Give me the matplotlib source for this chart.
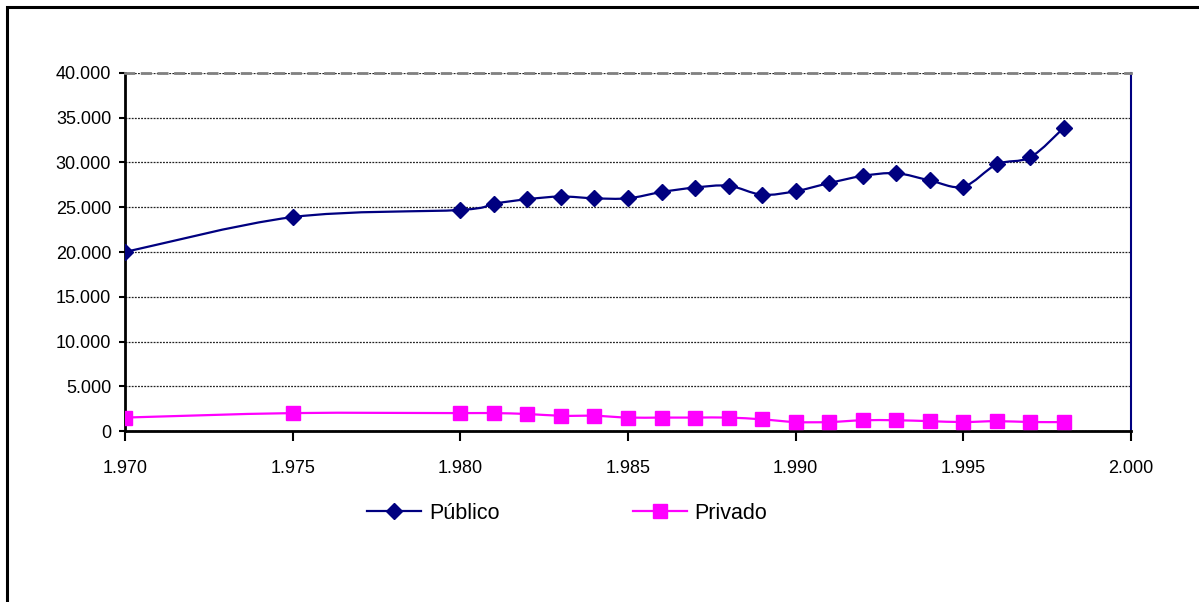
import numpy as np
import matplotlib
matplotlib.use("Agg")
import matplotlib.pyplot as plt
from matplotlib.path import Path
from matplotlib.patches import PathPatch, Rectangle
from matplotlib.lines import Line2D
from matplotlib.ticker import FuncFormatter, MultipleLocator

plt.rcParams['font.family'] = ['Liberation Sans Narrow', 'Liberation Sans', 'DejaVu Sans']

# series: years with a marker, and the two sectors
anos = [1970, 1975, 1980, 1981, 1982, 1983, 1984, 1985, 1986, 1987, 1988,
        1989, 1990, 1991, 1992, 1993, 1994, 1995, 1996, 1997, 1998]
publico = [20000, 23900, 24700, 25400, 25900, 26200, 26000, 26000, 26700, 27200, 27400,
           26400, 26800, 27700, 28500, 28800, 28000, 27300, 29800, 30600, 33900]
privado = [1500, 2000, 2000, 2000, 1900, 1700, 1700, 1500, 1500, 1500, 1500,
           1300, 1000, 1000, 1200, 1200, 1100, 1000, 1100, 1000, 1000]

series = [("Público", publico, "#000080", "D", 8.5),
          ("Privado", privado, "#FF00FF", "s", 9.5)]


def curva_suave(x, y):
    # bezier por tramos (catmull-rom) como la linea suavizada de excel
    p = np.column_stack([x, y]).astype(float)
    verts = [p[0]]
    codes = [Path.MOVETO]
    for i in range(len(p) - 1):
        p0 = p[i - 1] if i > 0 else p[i]
        p3 = p[i + 2] if i + 2 < len(p) else p[i + 1]
        c1 = p[i] + (p[i + 1] - p0) / 6
        c2 = p[i + 1] - (p3 - p[i]) / 6
        verts += [c1, c2, p[i + 1]]
        codes += [Path.CURVE4] * 3
    return Path(verts, codes)


def miles(v, pos):
    return f"{int(round(v)):,}".replace(",", ".")


fig = plt.figure(figsize=(11.99, 6.02), dpi=100)
ax = fig.add_axes([0.10425, 0.28405, 0.83906, 0.59469])

handles = []
for nombre, vals, color, mk, ms in series:
    ax.add_patch(PathPatch(curva_suave(anos, vals), facecolor="none",
                           edgecolor=color, lw=1.6, zorder=3))
    ax.plot(anos, vals, linestyle="none", marker=mk, ms=ms, color=color,
            markeredgecolor=color, zorder=4)
    handles.append(Line2D([], [], color=color, lw=1.6, marker=mk, ms=ms,
                          markeredgecolor=color, label=nombre))

ax.set_xlim(1970, 2000)
ax.set_ylim(0, 40000)
ax.xaxis.set_major_locator(MultipleLocator(5))
ax.yaxis.set_major_locator(MultipleLocator(5000))
ax.xaxis.set_major_formatter(FuncFormatter(miles))
ax.yaxis.set_major_formatter(FuncFormatter(miles))

ax.grid(axis="y", color="#222222", linestyle=(0, (1.5, 1)), lw=0.9)
ax.set_axisbelow(True)

ax.spines["left"].set_color("black")
ax.spines["left"].set_linewidth(2)
ax.spines["bottom"].set_color("black")
ax.spines["bottom"].set_linewidth(2)
ax.spines["top"].set_color("#808080")
ax.spines["top"].set_linestyle((0, (3, 3)))
ax.spines["top"].set_linewidth(2)
ax.spines["right"].set_color("#000080")
ax.spines["right"].set_linewidth(1.5)

ax.tick_params(axis="x", direction="out", length=7, width=1.5, pad=14,
               labelsize=13, color="black")
ax.tick_params(axis="y", direction="out", length=4, width=1.5, pad=6,
               labelsize=13, color="black")

fig.legend(handles=handles, loc="center", bbox_to_anchor=(0.473, 0.147),
           ncol=2, frameon=False, fontsize=15.5, handlelength=2.5,
           handletextpad=0.35, columnspacing=6.2)

# marco exterior del grafico
fig.patches.append(Rectangle((7 / 1199, -0.2), 1.3, 1.2 - 7 / 602,
                             transform=fig.transFigure, fill=False,
                             edgecolor="black", lw=2.2))

fig.savefig("out.png", dpi=100)
